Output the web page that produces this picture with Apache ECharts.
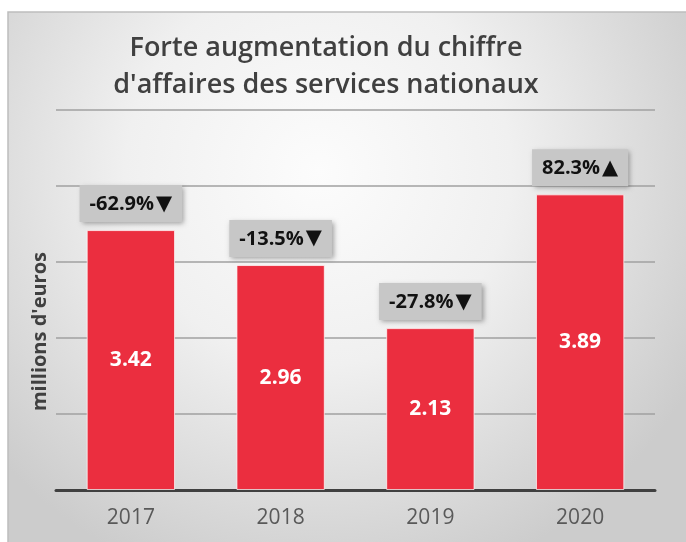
<!DOCTYPE html>
<html><head><meta charset="utf-8">
<script src="https://cdn.jsdelivr.net/npm/echarts@6/dist/echarts.min.js"></script>
<style>html,body{margin:0;padding:0;background:#fff}#c{width:686px;height:542px}</style>
</head><body><div id="c"></div>
<script>
var categories = ['2017', '2018', '2019', '2020'];
var values = [3.42, 2.96, 2.13, 3.89];
var changes = ['-62.9%\u25BC', '-13.5%\u25BC', '-27.8%\u25BC', '82.3%\u25B2'];
var titleText = "Forte augmentation du chiffre\nd'affaires des services nationaux";
var axisName = "millions d'euros";

var chart = echarts.init(document.getElementById('c'));
var FONT = '"Open Sans", Lato, sans-serif';
chart.setOption({
  backgroundColor: '#ffffff',
  animation: false,
  title: {
    text: titleText,
    left: 326,
    top: 30,
    padding: 0,
    textAlign: 'center',
    textStyle: { fontFamily: FONT, fontSize: 27, fontWeight: 600, color: '#404040', lineHeight: 37 }
  },
  graphic: [
    {
      type: 'rect', z: -10, silent: true,
      shape: { x: 8, y: 12, width: 690, height: 535 },
      style: {
        fill: { type: 'radial', x: 0.45, y: 0.3, r: 0.8,
          colorStops: [{ offset: 0, color: '#fcfcfc' }, { offset: 0.45, color: '#f0f0f0' }, { offset: 1, color: '#cccccc' }] },
        stroke: '#bdbdbd', lineWidth: 1.5
      }
    },
    {
      type: 'text', left: 30, top: 252, rotation: Math.PI / 2, silent: true,
      style: { text: axisName, font: 'bold 20px ' + FONT, fill: '#404040' }
    }
  ],
  grid: { left: 56, right: 31, top: 110, bottom: 52 },
  xAxis: {
    type: 'category', data: categories,
    axisLine: { lineStyle: { color: '#404040', width: 3 } },
    axisTick: { show: false },
    axisLabel: { fontFamily: FONT, fontSize: 21, color: '#595959', margin: 18 }
  },
  yAxis: {
    type: 'value', min: 0, max: 5, interval: 1,
    axisLabel: { show: false },
    axisLine: { show: false }, axisTick: { show: false },
    splitLine: { lineStyle: { color: '#a0a0a0', width: 1.5 } }
  },
  series: [
    {
      type: 'bar', data: values, barWidth: '59%',
      itemStyle: { color: '#eb2e3f', borderColor: 'rgba(255,255,255,0.7)', borderWidth: 1 },
      label: { show: true, position: 'inside', fontFamily: FONT, fontSize: 21, fontWeight: 'bold', color: '#ffffff',
        formatter: function (p) { return p.value.toFixed(2); } }
    },
    {
      type: 'bar', data: values, barWidth: '59%', barGap: '-100%', silent: true,
      itemStyle: { color: 'rgba(0,0,0,0)' },
      label: { show: true, position: 'top', distance: 8,
        fontFamily: FONT, fontSize: 20, fontWeight: 'bold', color: '#111111',
        backgroundColor: '#c7c7c7', padding: [7, 10, 6, 10],
        shadowBlur: 5, shadowColor: 'rgba(0,0,0,0.35)', shadowOffsetX: 2, shadowOffsetY: 2,
        rich: {
          p: { fontFamily: FONT, fontSize: 20, fontWeight: 'bold', color: '#111111', lineHeight: 24 },
          t: { fontFamily: 'DejaVu Sans', fontSize: 21, color: '#111111', lineHeight: 24, padding: [0, 0, 0, 2] }
        },
        formatter: function (p) {
          var s = changes[p.dataIndex];
          return '{p|' + s.slice(0, -1) + '}{t|' + s.slice(-1) + '}';
        } }
    }
  ]
});
</script></body></html>
